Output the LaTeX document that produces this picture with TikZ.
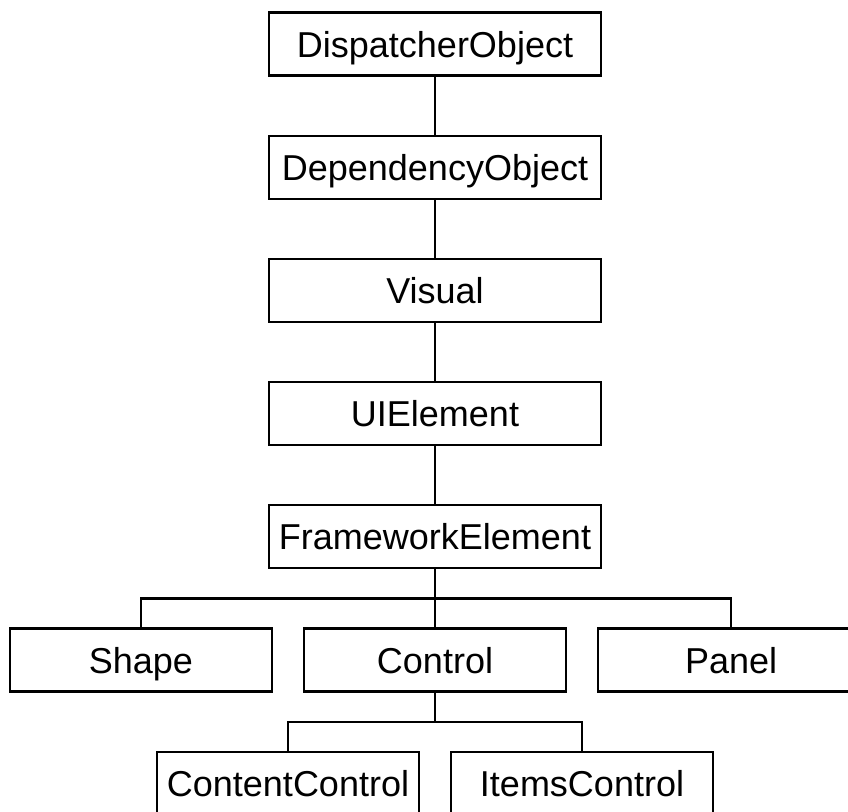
\documentclass[tikz,border=0pt]{standalone}
\usepackage{fontspec}
\setmainfont{Liberation Sans}
\usetikzlibrary{positioning,calc}

\begin{document}
\begin{tikzpicture}[x=1pt, y=-1pt, node distance=58pt]
\tikzstyle{classbox} = [draw, rectangle, line width=2.2pt, minimum width=332pt, minimum height=63pt, inner sep=0pt, text height=26pt, text depth=0pt, font=\fontsize{36}{42}\selectfont]
\tikzstyle{leafbox} = [classbox, minimum width=262pt]
\tikzstyle{link} = [draw, line width=2.2pt]

\path[use as bounding box, clip] (0,0) rectangle (848,811);

% Inheritance chain
\node [classbox] (DispObj) at (435,44) {DispatcherObject};
\node [classbox, below=of DispObj] (DepObj) {DependencyObject};
\node [classbox, below=of DepObj] (Visual) {Visual};
\node [classbox, below=of Visual] (UIElem) {UIElement};
\node [classbox, below=of UIElem] (FwElem) {FrameworkElement};

% Derived classes
\node [leafbox, below=of FwElem] (Control) {Control};
\node [leafbox, left=30pt of Control] (Shape) {Shape};
\node [leafbox, right=30pt of Control, minimum width=266pt] (Panel) {Panel};
\node [leafbox, below=58pt of Control, xshift=-147pt] (ContCtl) {ContentControl};
\node [leafbox, below=58pt of Control, xshift=147pt] (ItemsCtl) {ItemsControl};

% Connectors
\draw [link] (DispObj) -- (DepObj);
\draw [link] (DepObj) -- (Visual);
\draw [link] (Visual) -- (UIElem);
\draw [link] (UIElem) -- (FwElem);
\coordinate (split1) at ($(FwElem.south)!0.5!(Control.north)$);
\draw [link] (FwElem) -- (Control);
\draw [link] (Shape.north) |- (split1) -| (Panel.north);
\coordinate (split2) at ($(Control.south)!0.5!(ContCtl.north -| Control.south)$);
\draw [link] (Control.south) -- (split2);
\draw [link] (ContCtl.north) |- (split2) -| (ItemsCtl.north);

\end{tikzpicture}
\end{document}
